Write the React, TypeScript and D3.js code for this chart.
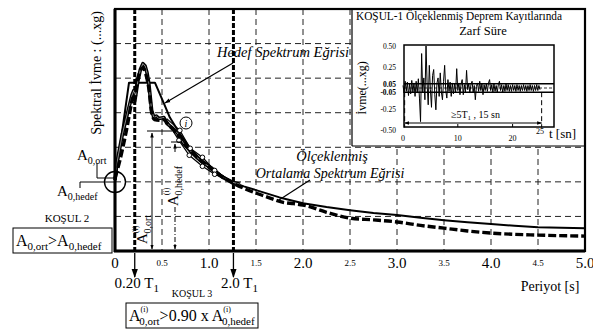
import React from 'react';
import * as d3 from 'd3';

// ---------- data ----------
const majorTicks = [0, 1.0, 2.0, 3.0, 4.0, 5.0];
const majorLabels = ['0', '1.0', '2.0', '3.0', '4.0', '5.0'];
const minorTicks = [0.5, 1.5, 2.5, 3.5, 4.5];
const minorLabels = ['0.5', '1.5', '2.5', '3.5', '4.5'];
const gridValues = [1, 2, 3, 4, 5, 6];
const t1Markers = [0.21, 1.26];
const t1Labels = ['0.20 T', '2.0 T'];

const hedefT = [0, 0.149, 0.425, 0.52, 0.584, 0.70, 0.80, 0.90, 1.01, 1.12, 1.25, 1.37, 1.5, 1.75, 2.0, 2.25, 2.5, 2.75, 3.0, 3.25, 3.5, 3.75, 4.0, 4.25, 4.5, 4.75, 5.0];
const hedefV = [1.99, 4.87, 4.87, 4.27, 3.86, 3.35, 2.97, 2.68, 2.45, 2.21, 1.99, 1.87, 1.76, 1.55, 1.38, 1.27, 1.18, 1.1, 1.04, 0.96, 0.89, 0.83, 0.78, 0.73, 0.69, 0.67, 0.66];

const recordT = [0, 0.02, 0.08, 0.14, 0.18, 0.20, 0.22, 0.244, 0.27, 0.297, 0.32, 0.34, 0.36, 0.39, 0.414, 0.44, 0.467, 0.52, 0.552, 0.605, 0.669, 0.722, 0.796, 0.87, 0.934, 1.03, 1.146, 1.25, 1.33];
const recordV = [2.05, 2.54, 3.4, 4.06, 4.5, 4.64, 4.5, 4.93, 5.25, 5.42, 5.35, 5.16, 4.84, 4.06, 3.86, 3.9, 3.83, 3.86, 3.69, 3.57, 3.40, 3.14, 2.91, 2.71, 2.56, 2.39, 2.13, 1.99, 1.93];

const ortT = [0, 0.05, 0.10, 0.13, 0.17, 0.19, 0.21, 0.23, 0.26, 0.30, 0.33, 0.36, 0.39, 0.42, 0.47, 0.52, 0.58, 0.65, 0.72, 0.80, 0.90, 1.0, 1.1, 1.25, 1.4, 1.6, 1.8, 1.9, 2.0, 2.25, 2.5, 2.75, 3.0, 3.25, 3.5, 3.75, 4.0, 4.5, 5.0];
const ortV = [2.1, 2.6, 3.2, 3.6, 4.2, 4.45, 4.3, 4.8, 5.15, 5.3, 5.1, 4.7, 4.0, 3.8, 3.78, 3.8, 3.62, 3.42, 3.17, 2.92, 2.64, 2.42, 2.22, 1.97, 1.78, 1.58, 1.40, 1.37, 1.33, 1.12, 0.95, 0.9, 0.84, 0.74, 0.66, 0.58, 0.52, 0.46, 0.43];

const upperT = [0.55, 0.69, 0.80, 0.93, 1.06, 1.17];
const upperV = [3.83, 3.49, 2.97, 2.71, 2.33, 2.13];
const lowerT = [0.58, 0.68, 0.79, 0.93, 1.06, 1.2];
const lowerV = [3.63, 3.2, 2.77, 2.45, 2.22, 2.05];

// accelerogram samples, one every accelStep seconds
const accelStep = 0.2;
const accelV = [
  0.03, -0.06, 0.08, -0.04, 0.07, -0.09, 0.05, -0.07, 0.09, -0.05, 0.06, -0.1, 0.08, -0.06, 0.11, -0.12,
  -0.40, 0.41, -0.05, 0.12, -0.14, 0.50, 0.05, -0.20, 0.27, -0.02, -0.23, 0.15, 0.22, -0.08,
  -0.26, 0.06, 0.12, -0.10, 0.18, -0.05, -0.14, 0.08, 0.27, -0.03, -0.12, 0.10, -0.04, 0.07, -0.10,
  0.06, -0.07, 0.05, -0.05, 0.23, -0.03, 0.06, -0.08, 0.05, 0.10, -0.08, 0.04, -0.05, 0.21, -0.02,
  0.05, -0.06, 0.04, 0.08, -0.05, 0.03, -0.14, 0.02, 0.06, -0.04, 0.08, -0.03, 0.05, -0.08, 0.04,
  -0.03, 0.05, -0.04, 0.06, 0.10, -0.03, 0.04, -0.05, 0.05, -0.04, 0.03, -0.05, 0.04, 0.08, -0.03,
  0.04, -0.05, 0.03, -0.04, 0.05, -0.03, 0.04, -0.04, 0.03, -0.04, 0.04, -0.03, 0.03, -0.04, 0.04,
  -0.03, 0.03, -0.04, 0.03, -0.03, 0.04, -0.03, 0.03, -0.04, 0.03, -0.03, 0.04, -0.03, 0.03, -0.04,
  0.03, -0.03, 0.04, -0.03, 0.03, -0.02
];

const accelTicks = [0.5, 0.25, 0.05, -0.05, -0.25, -0.5];
const accelTickLabels = ['0.50', '0.25', '0.05', '-0.05', '-0.25', '-0.50'];
const timeTicks = [0, 10, 20, 25];
const timeTickLabels = ['0', '10', '20', '25'];
const envelopeLimits = [0.05, -0.05];
const durationBounds = [0.3, 25.3];

// ---------- component ----------
const FONT = 'Liberation Serif';

export default function App() {
  const W = 593, H = 331;
  const x = d3.scaleLinear().domain([0, 5]).range([115, 585]);
  const y = d3.scaleLinear().domain([0, 7]).range([251, 9]);
  const tx = d3.scaleLinear().domain([0, 25]).range([403, 540]);
  const ay = d3.scaleLinear().domain([-0.5, 0.5]).range([130, 46]);

  const mk = (ts: number[], vs: number[]) => ts.map((t, i) => [t, vs[i]] as [number, number]);
  const line = d3.line<[number, number]>().x(d => x(d[0])).y(d => y(d[1]));
  const smooth = d3.line<[number, number]>().x(d => x(d[0])).y(d => y(d[1])).curve(d3.curveMonotoneX);
  const accLine = d3.line<[number, number]>().x(d => tx(d[0])).y(d => ay(d[1]));

  const hedef = mk(hedefT, hedefV);
  const record = mk(recordT, recordV);
  const ort = mk(ortT, ortV);
  const upper = mk(upperT, upperV);
  const lower = mk(lowerT, lowerV);
  const accel = accelV.map((v, i) => [i * accelStep, v] as [number, number]);

  const gridX = [...minorTicks, 1, 2, 3, 4];

  return (
    <svg width={W} height={H} style={{ position: 'absolute', left: 0, top: 0, background: '#fff', fontFamily: FONT }}>
      <defs>
        <marker id="arr" viewBox="0 0 10 10" refX="9" refY="5" markerWidth="7" markerHeight="7" orient="auto-start-reverse">
          <path d="M0,1.5 L10,5 L0,8.5 z" fill="#000" />
        </marker>
        <marker id="arrs" viewBox="0 0 10 10" refX="9" refY="5" markerWidth="5" markerHeight="5" orient="auto-start-reverse">
          <path d="M0,1.5 L10,5 L0,8.5 z" fill="#000" />
        </marker>
      </defs>
      <rect x={0} y={0} width={W} height={H} fill="#fff" />

      {/* grid */}
      {gridX.map((g, i) => (
        <line key={'gx' + i} x1={x(g)} x2={x(g)} y1={y(7)} y2={y(0)} stroke="#222" strokeWidth={1} strokeDasharray="6,4" />
      ))}
      {gridValues.map((g, i) => (
        <line key={'gy' + i} x1={x(0)} x2={x(5)} y1={y(g)} y2={y(g)} stroke="#222" strokeWidth={1} strokeDasharray="6,4" />
      ))}
      {/* T1 lines */}
      {t1Markers.map((t, i) => (
        <line key={'t1' + i} x1={x(t)} x2={x(t)} y1={y(7)} y2={y(0)} stroke="#000" strokeWidth={3} strokeDasharray="5,2" />
      ))}

      {/* curves */}
      <path d={line(hedef) || ''} fill="none" stroke="#000" strokeWidth={2} strokeLinejoin="round" />
      <path d={line(record) || ''} fill="none" stroke="#000" strokeWidth={3.6} strokeLinejoin="round" />
      <path d={line(record) || ''} fill="none" stroke="#fff" strokeWidth={0.9} strokeLinejoin="round" opacity={0.6} />
      <path d={smooth(ort) || ''} fill="none" stroke="#000" strokeWidth={3.4} strokeDasharray="8,3" />
      <path d={line(upper) || ''} fill="none" stroke="#000" strokeWidth={1.2} />
      <path d={line(lower) || ''} fill="none" stroke="#000" strokeWidth={1.2} />
      {[...upper.slice(1, 5), ...lower.slice(1, 5)].map((p, i) => (
        <circle key={'c' + i} cx={x(p[0])} cy={y(p[1])} r={2.3} fill="#fff" stroke="#000" strokeWidth={1} />
      ))}

      {/* inset */}
      <rect x={352} y={9} width={233} height={137} fill="#fff" />
      <line x1={352} x2={352} y1={9} y2={146} stroke="#000" strokeWidth={1.2} />
      <line x1={352} x2={585} y1={146} y2={146} stroke="#000" strokeWidth={1.2} />
      <text x={459} y={20} fontSize={12} textAnchor="middle" textLength={206} lengthAdjust="spacingAndGlyphs">KOŞUL-1 Ölçeklenmiş Deprem Kayıtlarında</text>
      <text x={483} y={35} fontSize={12.5} textAnchor="middle">Zarf Süre</text>
      <text transform="translate(366,88) rotate(-90)" fontSize={12} textAnchor="middle">İvme(...xg)</text>
      {accelTicks.map((v, i) => (
        <text key={'at' + i} x={396} y={ay(v) + 3} fontSize={7.5} textAnchor="end" fontWeight={Math.abs(v) < 0.1 ? 'bold' : 'normal'}>{accelTickLabels[i]}</text>
      ))}
      {timeTicks.map((t, i) => (
        <text key={'tt' + i} x={tx(t)} y={i === 3 ? 134 : 141} fontSize={8} textAnchor="middle">{timeTickLabels[i]}</text>
      ))}
      <text x={549} y={138} fontSize={13}>t [sn]</text>
      <path d={accLine(accel) || ''} fill="none" stroke="#000" strokeWidth={1} />
      {envelopeLimits.map((v, i) => (
        <line key={'el' + i} x1={404} x2={554} y1={ay(v)} y2={ay(v)} stroke="#000" strokeWidth={1.4} />
      ))}
      <line x1={404} x2={554} y1={ay(0)} y2={ay(0)} stroke="#000" strokeWidth={0.8} strokeDasharray="3,2" />
      {durationBounds.map((t, i) => (
        <line key={'db' + i} x1={tx(t)} x2={tx(t)} y1={ay(-0.05)} y2={ay(-0.47)} stroke="#000" strokeWidth={1} strokeDasharray="5,3" />
      ))}
      <line x1={tx(durationBounds[0])} x2={tx(durationBounds[1])} y1={123} y2={123} stroke="#000" strokeWidth={1} markerStart="url(#arrs)" markerEnd="url(#arrs)" />
      <text x={451} y={118} fontSize={10}>≥5T<tspan fontSize={7} dy={2}>1</tspan><tspan dy={-2}> , 15 sn</tspan></text>
      <rect x={404} y={45} width={150} height={82} fill="none" stroke="#000" strokeWidth={1.5} />
      {[10, 20].map((t, i) => (
        <line key={'itk' + i} x1={tx(t)} x2={tx(t)} y1={127} y2={124} stroke="#000" strokeWidth={1} />
      ))}

      {/* frame */}
      <rect x={x(0)} y={y(7)} width={x(5) - x(0)} height={y(0) - y(7)} fill="none" stroke="#000" strokeWidth={2.2} />
      <line x1={x(0)} x2={x(0)} y1={y(7)} y2={y(0) + 1} stroke="#000" strokeWidth={3} />
      <line x1={x(0) - 1} x2={x(5)} y1={y(0)} y2={y(0)} stroke="#000" strokeWidth={3} />

      {/* axis labels */}
      {majorTicks.map((t, i) => (
        <text key={'mj' + i} x={x(t)} y={268} fontSize={15} textAnchor="middle">{majorLabels[i]}</text>
      ))}
      {minorTicks.map((t, i) => (
        <text key={'mn' + i} x={x(t)} y={266} fontSize={9} textAnchor="middle">{minorLabels[i]}</text>
      ))}
      <text x={550} y={291} fontSize={14} textAnchor="middle">Periyot [s]</text>
      <text transform="translate(101,73) rotate(-90)" fontSize={14} textAnchor="middle">Spektral İvme : (...xg)</text>

      {/* T1 arrows */}
      {t1Markers.map((t, i) => (
        <g key={'ta' + i}>
          <line x1={x(t)} x2={x(t)} y1={253} y2={277} stroke="#000" strokeWidth={1.3} markerEnd="url(#arr)" />
          <text x={x(t) + (i === 0 ? 2 : 6)} y={288} fontSize={15} textAnchor="middle">{t1Labels[i]}<tspan fontSize={11} dy={4}>1</tspan></text>
        </g>
      ))}

      {/* A0 labels at left */}
      <circle cx={x(0)} cy={182} r={10.5} fill="none" stroke="#000" strokeWidth={1.4} />
      <polyline points="97,163 97,178 115,178" fill="none" stroke="#000" strokeWidth={1} />
      <polyline points="80,188 80,182 115,182" fill="none" stroke="#000" strokeWidth={1} />
      <text x={77} y={160} fontSize={15}>A<tspan fontSize={10} dy={4}>0,ort</tspan></text>
      <text x={57} y={196} fontSize={15}>A<tspan fontSize={10} dy={4}>0,hedef</tspan></text>
      <text x={67} y={222} fontSize={11} textAnchor="middle">KOŞUL 2</text>
      <rect x={13} y={228} width={99} height={25} fill="#fff" stroke="#000" strokeWidth={1} />
      <text x={16} y={246} fontSize={16}>A<tspan fontSize={11} dy={4}>0,ort</tspan><tspan dy={-4}>&gt;A</tspan><tspan fontSize={11} dy={4}>0,hedef</tspan></text>

      <text x={192} y={297} fontSize={10} textAnchor="middle">KOŞUL 3</text>
      <rect x={126} y={303} width={132} height={25} fill="#fff" stroke="#000" strokeWidth={1} />
      <text x={129} y={321} fontSize={16}>A<tspan fontSize={8} dy={-9}>(i)</tspan><tspan fontSize={11} dx={-9} dy={13}>0,ort</tspan><tspan dy={-4}>&gt;0.90 x A</tspan><tspan fontSize={8} dy={-9}>(i)</tspan><tspan fontSize={11} dx={-9} dy={13}>0,hedef</tspan></text>

      {/* internal A(i) annotations */}
      <line x1={147} x2={172} y1={131} y2={131} stroke="#000" strokeWidth={1} />
      <line x1={152} x2={152} y1={133} y2={249} stroke="#000" strokeWidth={1} markerStart="url(#arrs)" markerEnd="url(#arrs)" />
      <line x1={171} x2={180} y1={142} y2={142} stroke="#000" strokeWidth={1} />
      <line x1={175} x2={175} y1={144} y2={152} stroke="#000" strokeWidth={1} markerStart="url(#arrs)" />
      <line x1={175} x2={175} y1={207} y2={249} stroke="#000" strokeWidth={1} strokeDasharray="5,2,1,2" markerEnd="url(#arrs)" />
      <text transform="translate(147,244) rotate(-90)" fontSize={15}>A<tspan fontSize={8} dy={-9}>(i)</tspan><tspan fontSize={10} dx={-8} dy={13}>0,ort</tspan></text>
      <text transform="translate(178,206) rotate(-90)" fontSize={15}>A<tspan fontSize={8} dy={-9}>(i)</tspan><tspan fontSize={10} dx={-8} dy={13}>0,hedef</tspan></text>
      <circle cx={186} cy={123} r={6} fill="#fff" stroke="#000" strokeWidth={1} />
      <text x={186} y={127} fontSize={10} fontStyle="italic" textAnchor="middle">i</text>

      {/* curve labels */}
      <text x={283} y={57} fontSize={14.5} fontStyle="italic" textAnchor="middle">Hedef Spektrum Eğrisi</text>
      <line x1={233} x2={165} y1={63} y2={103} stroke="#000" strokeWidth={1.2} markerEnd="url(#arrs)" />
      <text x={332} y={161} fontSize={14.5} fontStyle="italic" textAnchor="middle">Ölçeklenmiş</text>
      <text x={330} y={178} fontSize={14} fontStyle="italic" textAnchor="middle">Ortalama Spektrum Eğrisi</text>
      <line x1={310} x2={279} y1={180} y2={200} stroke="#000" strokeWidth={1.2} />
    </svg>
  );
}
